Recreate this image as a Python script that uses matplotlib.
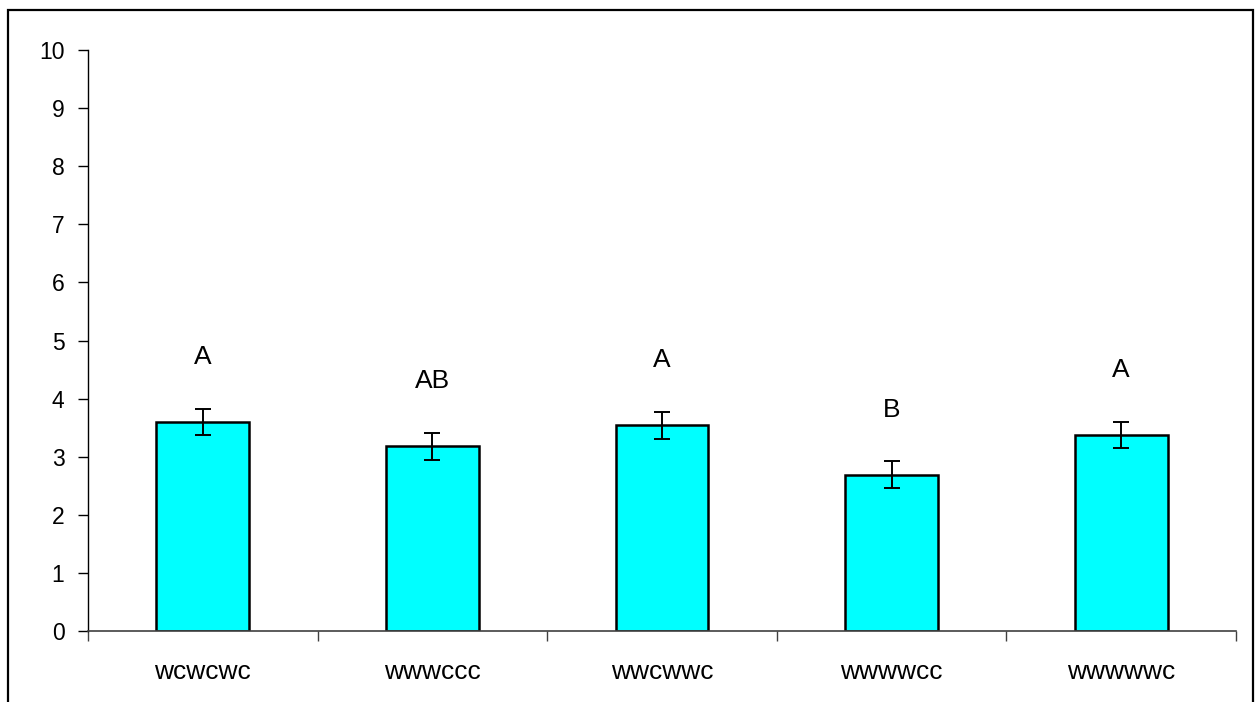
import matplotlib
matplotlib.use("Agg")
import matplotlib.pyplot as plt
from matplotlib.patches import Rectangle
import numpy as np

plt.rcParams['font.family'] = ['Liberation Sans', 'DejaVu Sans']

# Treatment sequences, group means, standard errors and significance letters
categories = ["wcwcwc", "wwwccc", "wwcwwc", "wwwwcc", "wwwwwc"]
means = [3.60, 3.18, 3.54, 2.69, 3.37]
errors = [0.22, 0.23, 0.23, 0.23, 0.22]
letters = ["A", "AB", "A", "B", "A"]
y_ticks = list(range(0, 11))

fig = plt.figure(figsize=(12.57, 7.02), dpi=100)
ax = fig.add_axes([88 / 1257, 1 - 631 / 702, (1236 - 88) / 1257, (631 - 50) / 702])

x = np.arange(len(categories))
ax.bar(x, means, width=0.405, color="#00FFFF", edgecolor="black", linewidth=1.8, zorder=2)
ax.errorbar(x, means, yerr=errors, fmt="none", ecolor="black", elinewidth=1.4,
            capsize=6, capthick=1.4, zorder=3)

for xi, m, lab in zip(x, means, letters):
    ax.text(xi, m + 1.12, lab, ha="center", va="center", fontsize=19)

ax.set_xlim(-0.5, len(categories) - 0.5)
ax.set_ylim(0, 10)
ax.set_yticks(y_ticks)
ax.set_yticklabels([str(t) for t in y_ticks], fontsize=16.5)

ax.set_xticks(x)
ax.set_xticklabels(categories, fontsize=19)
ax.set_xticks(np.arange(-0.5, len(categories)), minor=True)
ax.tick_params(axis="x", which="major", length=0, pad=21)
ax.tick_params(axis="x", which="minor", length=7, width=1, color="#404040", direction="out")
ax.tick_params(axis="y", length=7, width=1, pad=10, direction="out")

for side in ("top", "right"):
    ax.spines[side].set_visible(False)
ax.spines["left"].set_linewidth(1)
ax.spines["bottom"].set_linewidth(1.2)
ax.spines["bottom"].set_color("#404040")

# Outer frame around the chart
frame = Rectangle((8 / 1257, -0.05), (1253 - 8) / 1257, 1 - 10 / 702 + 0.05,
                  transform=fig.transFigure, fill=False, edgecolor="black",
                  linewidth=1.6, clip_on=False)
fig.patches.append(frame)

fig.savefig("out.png", dpi=100)
